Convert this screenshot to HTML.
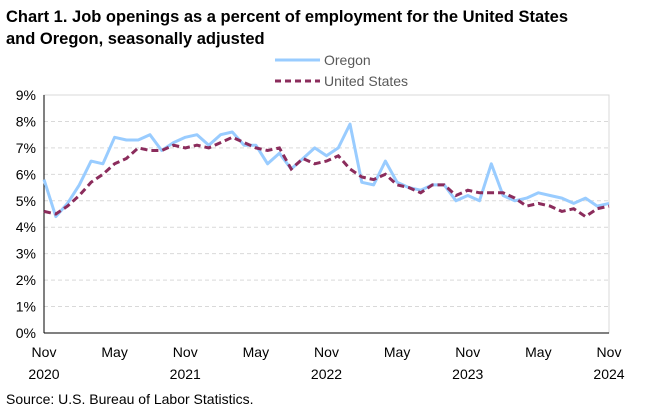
<!DOCTYPE html>
<html><head><meta charset="utf-8"><style>
body{margin:0;background:#fff;font-family:"Liberation Sans",Arial,sans-serif;}
svg text{font-family:"Liberation Sans",Arial,sans-serif;}
</style></head><body>
<svg width="646" height="412">
<text x="6" y="22" font-size="16.5" font-weight="bold" fill="#000">Chart 1. Job openings as a percent of employment for the United States</text>
<text x="6" y="44" font-size="16.5" font-weight="bold" fill="#000">and Oregon, seasonally adjusted</text>
<g>
<line x1="275" y1="60" x2="320" y2="60" stroke="#99ccff" stroke-width="3"/>
<text x="324" y="65" font-size="14" fill="#595959">Oregon</text>
<line x1="275" y1="81" x2="320" y2="81" stroke="#8b2c5c" stroke-width="3" stroke-dasharray="6,4"/>
<text x="324" y="86" font-size="14" fill="#595959">United States</text>
</g>
<rect x="44" y="95" width="565" height="238" fill="none" stroke="#d9d9d9"/>
<g id="grid"></g><g id="yt"></g><g id="xt"></g>
<line x1="44" y1="95" x2="44" y2="333" stroke="#000"/>
<line x1="44" y1="333" x2="609" y2="333" stroke="#000"/>
<path id="or" fill="none" stroke="#99ccff" stroke-width="3" stroke-linejoin="round"/>
<path id="us" fill="none" stroke="#8b2c5c" stroke-width="3" stroke-dasharray="7,4"/>
<text x="6" y="404" font-size="14" fill="#000">Source: U.S. Bureau of Labor Statistics.</text>
</svg>
<script>
const oregon=[5.8,4.4,4.9,5.6,6.5,6.4,7.4,7.3,7.3,7.5,6.9,7.2,7.4,7.5,7.1,7.5,7.6,7.1,7.1,6.4,6.8,6.2,6.6,7.0,6.7,7.0,7.9,5.7,5.6,6.5,5.7,5.5,5.4,5.6,5.6,5.0,5.2,5.0,6.4,5.2,5.0,5.1,5.3,5.2,5.1,4.9,5.1,4.8,4.9];
const unitedStates=[4.6,4.5,4.8,5.2,5.7,6.0,6.4,6.6,7.0,6.9,6.9,7.1,7.0,7.1,7.0,7.2,7.4,7.2,7.0,6.9,7.0,6.2,6.6,6.4,6.5,6.7,6.2,5.9,5.8,6.0,5.6,5.5,5.3,5.6,5.6,5.2,5.4,5.3,5.3,5.3,5.1,4.8,4.9,4.8,4.6,4.7,4.4,4.7,4.8];
const yTicks=[0,1,2,3,4,5,6,7,8,9];
const xTickIdx=[0,6,12,18,24,30,36,42,48];
const xTickLabels=[["Nov","2020"],["May",""],["Nov","2021"],["May",""],["Nov","2022"],["May",""],["Nov","2023"],["May",""],["Nov","2024"]];
const NS="http://www.w3.org/2000/svg";
const X=i=>44+i*565/(oregon.length-1);
const Y=v=>333-v*238/9;
function mk(t,a,p,txt){const e=document.createElementNS(NS,t);for(const k in a)e.setAttribute(k,a[k]);if(txt!==undefined)e.textContent=txt;p.appendChild(e);return e;}
const g=document.getElementById('grid'),yt=document.getElementById('yt'),xt=document.getElementById('xt');
yTicks.forEach(v=>{
 if(v>0&&v<9){const l=mk('line',{x1:44,x2:609,y1:Y(v),y2:Y(v),stroke:'#d9d9d9','stroke-dasharray':'4,3'},g);
 
 }
 const t=mk('text',{x:36,y:Y(v)+5,'font-size':14,'text-anchor':'end',fill:'#000'},yt,v+'%');
 
 
});
xTickIdx.forEach((i,k)=>{
 const t=mk('text',{x:X(i),y:357,'font-size':14,'text-anchor':'middle',fill:'#000'},xt,xTickLabels[k][0]);
 
 
 if(xTickLabels[k][1]){const t2=mk('text',{x:X(i),y:379,'font-size':14,'text-anchor':'middle',fill:'#000'},xt,xTickLabels[k][1]);
 
 }
});
const d=a=>a.map((v,i)=>(i?'L':'M')+X(i).toFixed(1)+','+Y(v).toFixed(1)).join('');
document.getElementById('or').setAttribute('d',d(oregon));
document.getElementById('us').setAttribute('d',d(unitedStates));
</script>
</body></html>
